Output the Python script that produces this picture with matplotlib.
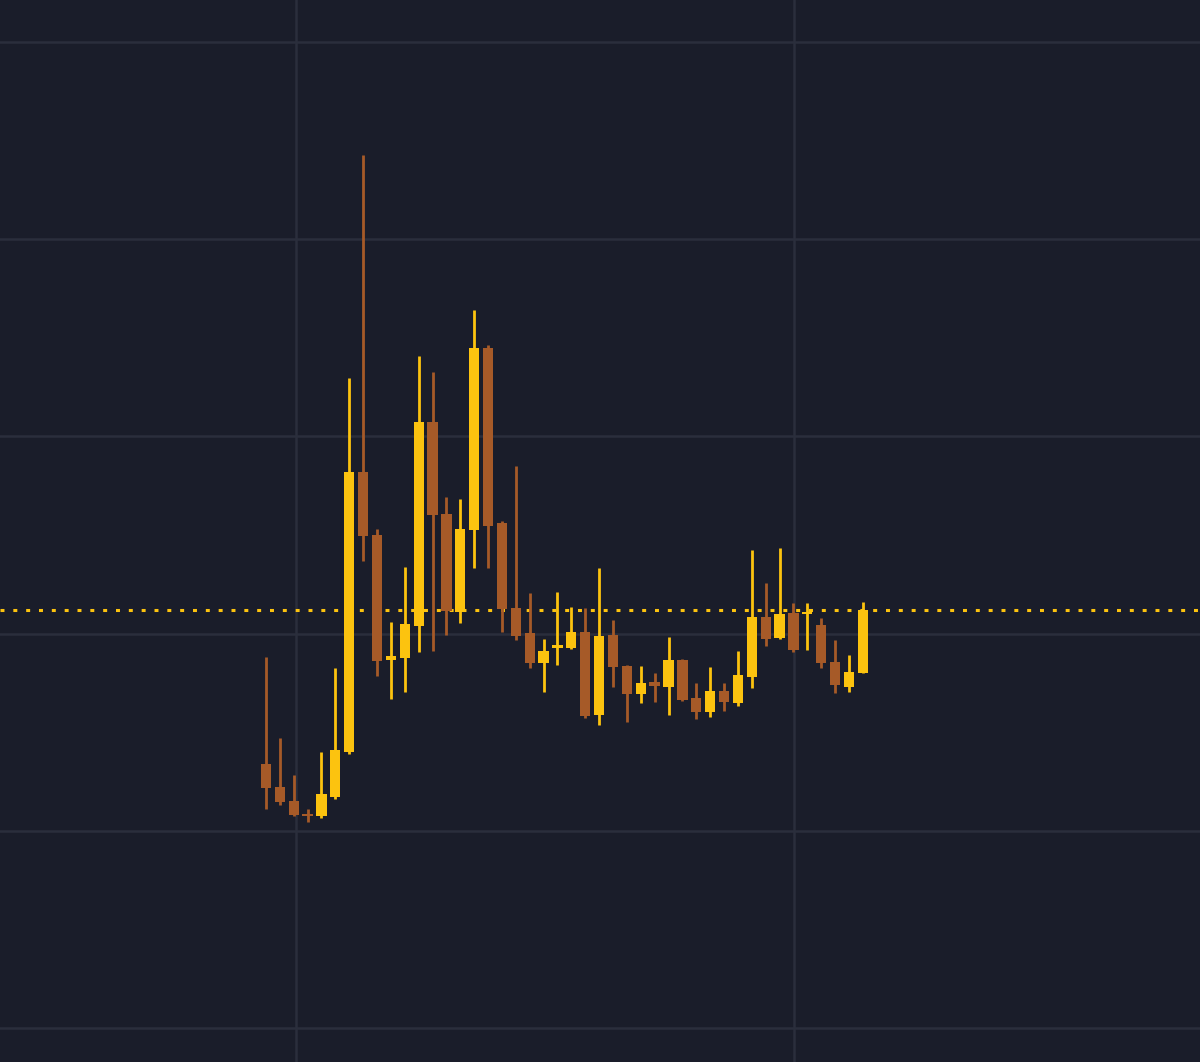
import matplotlib
matplotlib.use("Agg")
import matplotlib.pyplot as plt
import numpy as np

# OHLC (price units, grid step = 1.0)
opens = [1.339, 1.222, 1.151, 1.085, 1.075, 1.171, 1.400, 2.819, 2.500, 1.866,
         1.876, 2.039, 3.073, 2.606, 2.110, 2.525, 3.448, 2.561, 2.130, 2.003,
         1.851, 1.927, 1.927, 2.008, 1.587, 1.993, 1.836, 1.694, 1.755, 1.729,
         1.866, 1.673, 1.602, 1.709, 1.648, 1.780, 2.084, 1.978, 2.104, 2.100,
         2.044, 1.856, 1.729, 1.800]
highs = [1.881, 1.471, 1.283, 1.111, 1.400, 1.826, 3.296, 4.427, 2.530, 2.059,
         2.338, 3.408, 3.327, 2.693, 2.683, 3.641, 3.464, 2.571, 2.850, 2.206,
         1.973, 2.211, 2.135, 2.130, 2.333, 2.069, 1.841, 1.836, 1.800, 1.983,
         1.871, 1.749, 1.831, 1.749, 1.912, 2.424, 2.257, 2.434, 2.155, 2.155,
         2.079, 1.968, 1.891, 2.160]
lows = [1.111, 1.131, 1.075, 1.045, 1.065, 1.161, 1.389, 2.368, 1.785, 1.668,
        1.704, 1.907, 1.912, 1.993, 2.054, 2.333, 2.333, 2.008, 1.968, 1.826,
        1.704, 1.841, 1.922, 1.572, 1.537, 1.729, 1.552, 1.648, 1.653, 1.587,
        1.658, 1.567, 1.577, 1.608, 1.633, 1.724, 1.937, 1.973, 1.907, 1.917,
        1.826, 1.699, 1.704, 1.800]
closes = [1.217, 1.146, 1.080, 1.075, 1.187, 1.410, 2.819, 2.495, 1.861, 1.886,
          2.049, 3.073, 2.601, 2.115, 2.530, 3.448, 2.546, 2.125, 1.988, 1.851,
          1.912, 1.942, 2.008, 1.582, 1.988, 1.831, 1.694, 1.749, 1.734, 1.866,
          1.663, 1.602, 1.709, 1.653, 1.790, 2.084, 1.973, 2.099, 1.917, 2.110,
          1.851, 1.739, 1.805, 2.120]
last_price = 2.122
time_grid = [2.16, 38.04]
price_grid = [0, 1, 2, 3, 4, 5]

bg = "#1a1d2a"
grid_col = "#2a2e3c"
up_col = "#fcc30f"
down_col = "#a65a28"

fig = plt.figure(figsize=(12, 10.62), dpi=100, facecolor=bg)
ax = fig.add_axes([0, 0, 1, 1])
ax.set_facecolor(bg)

x = np.arange(len(opens))
o = np.array(opens)
c = np.array(closes)
cols = [up_col if cc >= oo else down_col for oo, cc in zip(o, c)]
bottoms = np.minimum(o, c)
heights = np.maximum(np.abs(c - o), 0.012)

ax.vlines(x, lows, highs, colors=cols, linewidth=2.0, zorder=3)
ax.bar(x, heights, bottom=bottoms, width=0.74, color=cols, zorder=4)

ax.axhline(last_price, color=up_col, linewidth=2.2,
           linestyle=(0, (1.3, 2.9)), zorder=2)

ax.set_xticks(time_grid)
ax.set_yticks(price_grid)
ax.grid(True, color=grid_col, linewidth=1.8, zorder=0)
ax.tick_params(length=0, labelbottom=False, labelleft=False)
for s in ax.spines.values():
    s.set_visible(False)

ax.set_xlim(-19.16, 67.29)
ax.set_ylim(-0.172, 5.213)

fig.savefig("out.png", dpi=100, facecolor=bg)
